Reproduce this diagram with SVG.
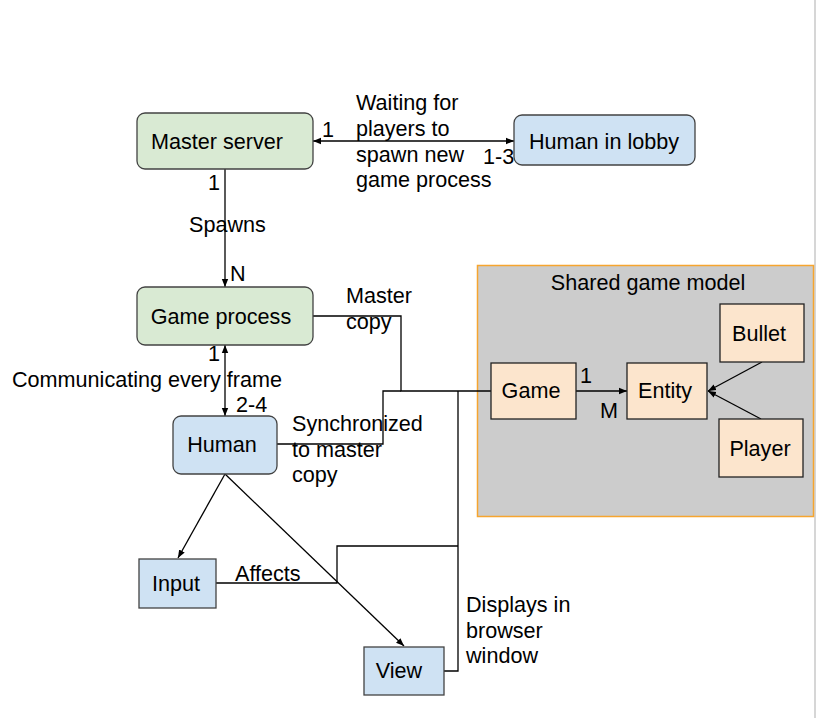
<svg xmlns="http://www.w3.org/2000/svg" width="816" height="718" viewBox="0 0 816 718">
<style>
text{font-family:"Liberation Sans",Arial,sans-serif;font-size:21.6px;fill:#000}
.c{text-anchor:middle}
.g{fill:#d9ead3;stroke:#434343;stroke-width:1.3}
.b{fill:#cfe2f3;stroke:#434343;stroke-width:1.3}
.p{fill:#fce5cd;stroke:#222;stroke-width:1.3}
.l{fill:none;stroke:#000;stroke-width:1.3}
</style>
<defs>
<marker id="a" viewBox="0 0 10 10" refX="10" refY="5" markerWidth="8" markerHeight="8" markerUnits="userSpaceOnUse" orient="auto-start-reverse"><path d="M0,1 L10,5 L0,9 Z" fill="#000"/></marker>
</defs>
<rect width="816" height="718" fill="#fff"/>
<line x1="815" y1="0" x2="815" y2="718" stroke="#c8c8c8" stroke-width="1.5"/>
<g id="shared-model">
<rect x="477.5" y="265.5" width="336" height="251" fill="#cccccc" stroke="#f6a52f" stroke-width="1.5"/>
<text class="c" x="648" y="290">Shared game model</text>
</g>
<g id="connectors">
<line class="l" x1="313" y1="141" x2="514" y2="141" marker-start="url(#a)" marker-end="url(#a)"/>
<line class="l" x1="225" y1="169" x2="225" y2="287" marker-end="url(#a)"/>
<line class="l" x1="225" y1="345" x2="225" y2="416" marker-start="url(#a)" marker-end="url(#a)"/>
<polyline class="l" points="313,316 401,316 401,391 491,391"/>
<polyline class="l" points="277,444 383,444 383,391 401,391"/>
<polyline class="l" points="444,671 458,671 458,391"/>
<polyline class="l" points="216,583 337,583 337,546 458,546"/>
<line class="l" x1="225" y1="474" x2="178" y2="558" marker-end="url(#a)"/>
<line class="l" x1="225" y1="474" x2="404" y2="646" marker-end="url(#a)"/>
<line class="l" x1="576" y1="391" x2="627" y2="391" marker-end="url(#a)"/>
<line class="l" x1="762" y1="362" x2="708" y2="391" marker-end="url(#a)"/>
<line class="l" x1="761" y1="419" x2="708" y2="391" marker-end="url(#a)"/>
</g>
<g id="master-server"><rect class="g" x="137" y="113" width="176" height="56" rx="8"/><text class="c" x="217" y="148.5">Master server</text></g>
<g id="human-in-lobby"><rect class="b" x="514" y="115" width="181" height="50" rx="8"/><text class="c" x="604" y="148.5">Human in lobby</text></g>
<g id="game-process"><rect class="g" x="137" y="287" width="176" height="58" rx="8"/><text class="c" x="221" y="324">Game process</text></g>
<g id="human"><rect class="b" x="173" y="416" width="104" height="58" rx="8"/><text class="c" x="222" y="452">Human</text></g>
<g id="input"><rect class="b" x="139" y="559" width="77" height="49"/><text class="c" x="176" y="591">Input</text></g>
<g id="view"><rect class="b" x="364" y="647" width="80" height="48"/><text class="c" x="399" y="678">View</text></g>
<g id="game"><rect class="p" x="491" y="363" width="85" height="56"/><text class="c" x="531" y="398">Game</text></g>
<g id="entity"><rect class="p" x="627" y="363" width="80" height="56"/><text class="c" x="665" y="398">Entity</text></g>
<g id="bullet"><rect class="p" x="720" y="304" width="84" height="58"/><text class="c" x="759" y="341">Bullet</text></g>
<g id="player"><rect class="p" x="719" y="419" width="84" height="58"/><text class="c" x="760" y="456">Player</text></g>
<g id="labels">
<text x="356" y="110">Waiting for</text>
<text x="356" y="136">players to</text>
<text x="356" y="162">spawn new</text>
<text x="356" y="187">game process</text>
<text x="322" y="137">1</text>
<text x="483" y="164">1-3</text>
<text x="208" y="190">1</text>
<text x="189" y="232">Spawns</text>
<text x="230" y="281">N</text>
<text x="346" y="303">Master</text>
<text x="346" y="329">copy</text>
<text x="208" y="361">1</text>
<text x="12" y="387">Communicating every frame</text>
<text x="236" y="412">2-4</text>
<text x="292" y="431">Synchronized</text>
<text x="292" y="457">to master</text>
<text x="292" y="482">copy</text>
<text x="580" y="383">1</text>
<text x="600" y="418">M</text>
<text x="235" y="581">Affects</text>
<text x="466" y="612">Displays in</text>
<text x="466" y="638">browser</text>
<text x="466" y="663">window</text>
</g>
</svg>
